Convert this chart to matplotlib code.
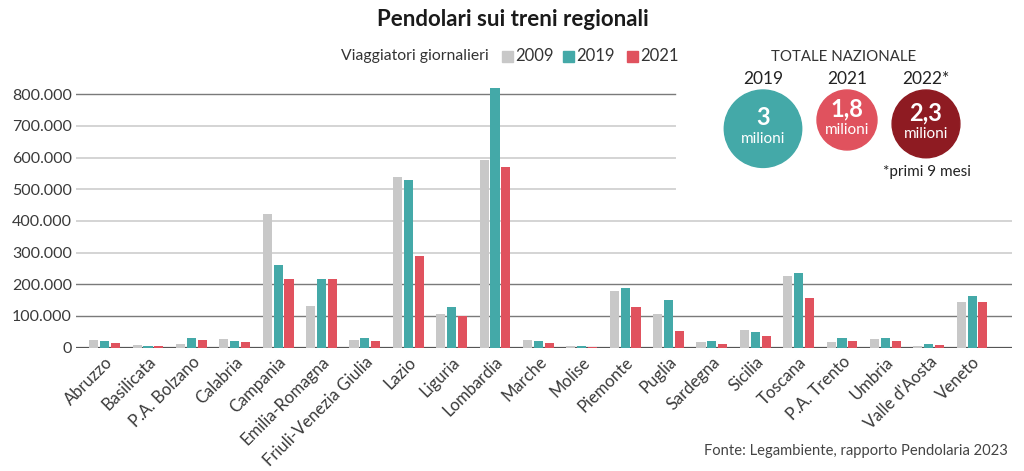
import matplotlib
matplotlib.use("Agg")
import matplotlib.pyplot as plt
import numpy as np
from matplotlib.patches import Circle, Rectangle

plt.rcParams['font.family'] = ['Lato', 'DejaVu Sans']

regions = ["Abruzzo", "Basilicata", "P.A. Bolzano", "Calabria", "Campania",
           "Emilia-Romagna", "Friuli-Venezia Giulia", "Lazio", "Liguria",
           "Lombardia", "Marche", "Molise", "Piemonte", "Puglia", "Sardegna",
           "Sicilia", "Toscana", "P.A. Trento", "Umbria", "Valle d'Aosta", "Veneto"]
v2009 = [23000, 7000, 10000, 26000, 421000, 130000, 23000, 540000, 105000,
         593000, 25000, 5000, 179000, 106000, 16000, 55000, 226000, 16000,
         27000, 6000, 144000]
v2019 = [19000, 5000, 29000, 19000, 261000, 215000, 29000, 530000, 128000,
         820000, 21000, 5000, 187000, 151000, 19000, 49000, 234000, 30000,
         29000, 10000, 163000]
v2021 = [14000, 4000, 25000, 16000, 215000, 215000, 22000, 290000, 101000,
         570000, 13000, 3000, 128000, 53000, 12000, 35000, 156000, 22000,
         20000, 7000, 145000]
series_years = ["2009", "2019", "2021"]
series_colors = ["#c8c8c8", "#44a9a8", "#e0525e"]

yticks = [0, 100000, 200000, 300000, 400000, 500000, 600000, 700000, 800000]

total_years = ["2019", "2021", "2022*"]
total_values = [3.0, 1.8, 2.3]
total_labels = ["3", "1,8", "2,3"]
total_colors = ["#44a9a8", "#e0525e", "#8e1b22"]

W, H = 1024, 471
fig = plt.figure(figsize=(W / 100, H / 100), dpi=100)

ax_l, ax_r = 76, 1012
ax_bottom_px, ymax = 348.3, 830000
px_per_val = 254 / 800000
ax_top_px = ax_bottom_px - ymax * px_per_val
ax = fig.add_axes([ax_l / W, (H - ax_bottom_px) / H, (ax_r - ax_l) / W,
                   (ax_bottom_px - ax_top_px) / H])

x = np.arange(len(regions))
bw, step = 0.21, 0.25
for i, (vals, col) in enumerate(zip([v2009, v2019, v2021], series_colors)):
    ax.bar(x + (i - 1) * step, vals, width=bw, color=col, linewidth=0,
           zorder=3)

ax.set_xlim(-0.66, len(regions) - 1 + 0.92)
ax.set_ylim(-2500, ymax)

# gridlines
short = (675 - ax_l) / (ax_r - ax_l)
for t in yticks[1:]:
    dark = t in (100000, 200000, 800000)
    col = "#7a7a7a" if dark else "#d4d4d4"
    lw = 1.0 if dark else 1.4
    xmax = short if t >= 500000 else 1.0
    ax.axhline(t, xmin=0, xmax=xmax, color=col, lw=lw, zorder=1)
ax.axhline(-1800, color="#555555", lw=1.6, zorder=2)

for s in ax.spines.values():
    s.set_visible(False)
ax.set_yticks(yticks)
ax.set_yticklabels([f"{t:,}".replace(",", ".") for t in yticks],
                   fontsize=11.5, color="#3a3a3a")
ax.tick_params(axis='y', length=0, pad=3)
ax.set_xticks(x)
ax.set_xticklabels(regions, rotation=45, ha='right', va='top',
                   rotation_mode='anchor', fontsize=12, color="#3a3a3a")
ax.tick_params(axis='x', length=0, pad=4)

# overlay for annotations in pixel space
ov = fig.add_axes([0, 0, 1, 1])
ov.set_xlim(0, W)
ov.set_ylim(H, 0)
ov.axis('off')

ov.text(513, 20, "Pendolari sui treni regionali", ha='center', va='center',
        fontsize=16, fontweight='bold', color="#1a1a1a")

# legend
ov.text(341, 56, "Viaggiatori giornalieri", ha='left', va='center',
        fontsize=11.3, color="#333333")
leg_x = [502, 563, 627]
for lx, yr, col in zip(leg_x, series_years, series_colors):
    ov.add_patch(Rectangle((lx, 50.5), 11, 11, color=col))
    ov.text(lx + 13, 56, yr, ha='left', va='center', fontsize=12,
            color="#333333")

# national totals
ov.text(844, 57, "TOTALE NAZIONALE", ha='center', va='center', fontsize=10.8,
        color="#333333")
cx = [763, 847, 926]
k = 22.35
for c, yr, val, lab, col in zip(cx, total_years, total_values, total_labels,
                                total_colors):
    r = k * np.sqrt(val)
    cy = 90 + r
    ov.add_patch(Circle((c, cy), r, color=col))
    ov.text(c, 79, yr, ha='center', va='center', fontsize=12.5,
            color="#222222")
    ov.text(c, cy - 11, lab, ha='center', va='center', fontsize=17,
            fontweight='bold', color='white')
    ov.text(c, cy + 10, "milioni", ha='center', va='center', fontsize=11,
            color='white')
ov.text(927, 172, "*primi 9 mesi", ha='center', va='center', fontsize=11,
        color="#222222")

ov.text(1008, 451, "Fonte: Legambiente, rapporto Pendolaria 2023", ha='right',
        va='center', fontsize=10.6, color="#444444")

fig.savefig("out.png", dpi=100, facecolor='white')
